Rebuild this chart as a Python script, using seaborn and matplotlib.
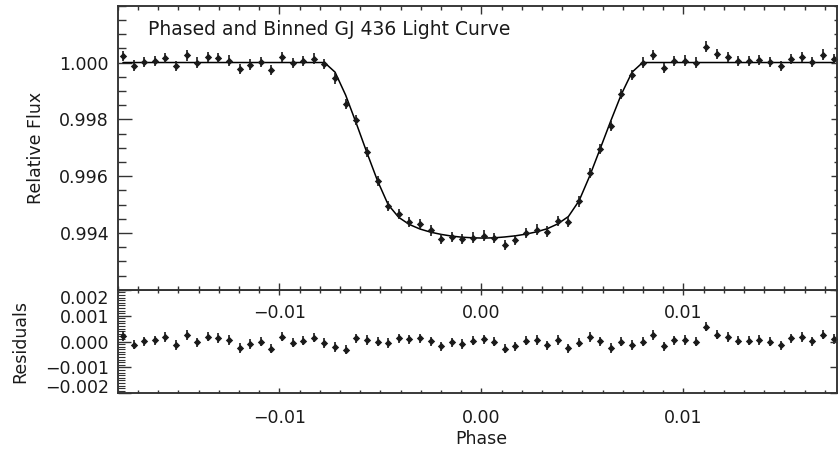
import numpy as np
import pandas as pd
import matplotlib
matplotlib.use("Agg")
import matplotlib.pyplot as plt
from matplotlib.ticker import FixedLocator, MultipleLocator, NullLocator
import seaborn as sns

# ---------------- data ----------------
phase = [-0.01774, -0.017215, -0.01669, -0.016165, -0.01564, -0.015115, -0.01459, -0.014065,
         -0.01354, -0.013015, -0.01249, -0.011965, -0.01144, -0.010915, -0.01039, -0.009865,
         -0.00934, -0.008815, -0.00829, -0.007765, -0.00724, -0.006715, -0.00619, -0.005665,
         -0.00514, -0.004615, -0.00409, -0.003565, -0.00304, -0.002515, -0.00199, -0.001465,
         -0.00094, -0.000415, 0.00011, 0.000635, 0.00116, 0.001685, 0.00221, 0.002735,
         0.00326, 0.003785, 0.00431, 0.004835, 0.00536, 0.005885, 0.00641, 0.006935,
         0.00746, 0.007985, 0.00851, 0.009035, 0.00956, 0.010085, 0.01061, 0.011135,
         0.01166, 0.012185, 0.01271, 0.013235, 0.01376, 0.014285, 0.01481, 0.015335,
         0.01586, 0.016385, 0.01691, 0.017435]

flux = [1.000235, 0.999894, 1.00002, 1.00005, 1.00015, 0.99988, 1.00025, 1.0,
        1.0002, 1.00016, 1.00007, 0.99978, 0.99993, 1.00001, 0.99975, 1.00019,
        0.99998, 1.00004, 1.00014, 0.99995, 0.99944, 0.99853, 0.99798, 0.99686,
        0.99582, 0.99496, 0.99468, 0.99440, 0.99431, 0.99409, 0.99379, 0.99386,
        0.99379, 0.99384, 0.99391, 0.99381, 0.99359, 0.99374, 0.99400, 0.99412,
        0.99405, 0.99442, 0.99438, 0.99511, 0.99612, 0.99696, 0.99776, 0.99889,
        0.99955, 1.0, 1.00027, 0.99982, 1.00004, 1.00007, 1.0, 1.00056,
        1.00029, 1.00019, 1.00004, 1.00005, 1.00009, 1.00002, 0.99987, 1.00013,
        1.00019, 1.00002, 1.00028, 1.00013]

model = [1.0] * 20 + [
        0.99966, 0.99885, 0.99786, 0.99683, 0.99584, 0.99500, 0.99455, 0.99430,
        0.99414, 0.99403, 0.99395, 0.99389, 0.99385, 0.99383, 0.99382, 0.99383,
        0.99386, 0.99390, 0.99396, 0.99404, 0.99415, 0.99432, 0.99458, 0.99513,
        0.99600, 0.99697, 0.99795, 0.99889, 0.99966] + [1.0] * 19

residual = [0.00022, -0.00012, 0.00001, 0.00005, 0.00017, -0.00013, 0.00025, -0.00003,
            0.00019, 0.00014, 0.00006, -0.00025, -0.00009, 0.0, -0.00027, 0.00019,
            -0.00004, 0.00003, 0.00015, -0.00006, -0.00021, -0.00032, 0.00013, 0.00006,
            -0.00001, -0.00006, 0.00013, 0.00009, 0.00012, 0.00001, -0.00019, -0.00003,
            -0.00009, 0.00003, 0.00009, -0.00001, -0.00027, -0.00018, 0.00003, 0.00006,
            -0.00014, 0.00006, -0.00026, -0.00004, 0.00018, 0.00001, -0.00025, -0.00001,
            -0.00013, -0.00001, 0.00025, -0.00018, 0.00005, 0.00006, -0.00001, 0.00057,
            0.00026, 0.00018, 0.00003, 0.00004, 0.00006, 0.0, -0.00014, 0.00012,
            0.00018, 0.00001, 0.00027, 0.00010]

flux_err = 0.00018

title_text = "Phased and Binned GJ 436 Light Curve"
phase_ticks = [-0.01, 0.0, 0.01]
phase_tick_labels = ["\u22120.01", "0.00", "0.01"]
flux_ticks = [0.994, 0.996, 0.998, 1.000]
flux_tick_labels = ["0.994", "0.996", "0.998", "1.000"]
resid_ticks = [-0.002, -0.001, 0.0, 0.001, 0.002]
resid_tick_labels = ["\u22120.002", "\u22120.001", "0.000", "0.001", "0.002"]

df = pd.DataFrame({"phase": phase, "flux": flux, "model": model, "residual": residual})

# ---------------- style ----------------
sns.set_style("ticks")
plt.rcParams["font.family"] = ["DejaVu Sans"]
ink = "#1a1a1a"
plt.rcParams["axes.edgecolor"] = "#333333"
plt.rcParams["xtick.color"] = "#333333"
plt.rcParams["ytick.color"] = "#333333"
plt.rcParams["xtick.labelcolor"] = ink
plt.rcParams["ytick.labelcolor"] = ink
plt.rcParams["axes.labelcolor"] = ink
FS = 12.5

W, H = 838, 451
fig = plt.figure(figsize=(W / 100, H / 100), dpi=100)
L, R = 117.5, 837.3
T1, B1 = 5.7, 289.8
B2 = 393.3
ax1 = fig.add_axes([L / W, 1 - B1 / H, (R - L) / W, (B1 - T1) / H])
ax2 = fig.add_axes([L / W, 1 - B2 / H, (R - L) / W, (B2 - B1) / H])
ax1.set_zorder(3)

xlim = (-0.01801, 0.01762)

# ---------------- top panel ----------------
sns.lineplot(data=df, x="phase", y="model", ax=ax1, color="black", lw=1.1,
             sort=True, estimator=None, legend=False, zorder=2)
ax1.errorbar(df["phase"], df["flux"], yerr=flux_err, fmt="none",
             ecolor=ink, elinewidth=1.2, capsize=0, zorder=3)
sns.scatterplot(data=df, x="phase", y="flux", ax=ax1, marker="D", s=14,
                color=ink, linewidth=0, zorder=4, legend=False)
ax1.set_xlim(*xlim)
ax1.set_ylim(0.992, 1.002)
ax1.xaxis.set_major_locator(FixedLocator(phase_ticks))
ax1.set_xticklabels(phase_tick_labels, fontsize=FS)
ax1.xaxis.set_minor_locator(MultipleLocator(0.001))
ax1.yaxis.set_major_locator(FixedLocator(flux_ticks))
ax1.set_yticklabels(flux_tick_labels, fontsize=FS)
ax1.yaxis.set_minor_locator(MultipleLocator(0.0005))
ax1.tick_params(axis="x", which="major", direction="in", top=True, bottom=True,
                length=5.4, width=1.0, pad=10.5)
ax1.tick_params(axis="x", which="minor", direction="in", top=True, bottom=True,
                length=2.8, width=1.0)
ax1.tick_params(axis="y", which="major", direction="in", left=True, right=False,
                length=10.0, width=1.0, pad=6.1)
ax1.tick_params(axis="y", which="minor", direction="in", left=True, right=False,
                length=5.5, width=1.0)
ax1.set_xlabel("")
ax1.set_ylabel("Relative Flux", fontsize=FS, va="center")
ax1.yaxis.set_label_coords((36 - L) / (R - L), 0.5)
ax1.text((148 - L) / (R - L), 1 - (35 - T1) / (B1 - T1), title_text,
         transform=ax1.transAxes, fontsize=13.5, color=ink, ha="left", va="baseline")

ax1r = ax1.twinx()
ax1r.set_ylim(0.992, 1.002)
ax1r.yaxis.set_major_locator(FixedLocator(flux_ticks))
ax1r.yaxis.set_minor_locator(MultipleLocator(0.0005))
ax1r.tick_params(axis="y", which="major", direction="in", length=4.3, width=1.0,
                 labelright=False)
ax1r.tick_params(axis="y", which="minor", direction="in", length=2.2, width=1.0)
ax1r.set_zorder(3)
ax1r.patch.set_visible(False)

# ---------------- bottom panel ----------------
ax2.errorbar(df["phase"], df["residual"], yerr=flux_err, fmt="none",
             ecolor=ink, elinewidth=1.2, capsize=0, zorder=3)
sns.scatterplot(data=df, x="phase", y="residual", ax=ax2, marker="D", s=14,
                color=ink, linewidth=0, zorder=4, legend=False)
ax2.set_xlim(*xlim)
ax2.set_ylim(-0.002, 0.002)
ax2.xaxis.set_major_locator(FixedLocator(phase_ticks))
ax2.set_xticklabels(phase_tick_labels, fontsize=FS)
ax2.xaxis.set_minor_locator(MultipleLocator(0.001))
ax2.yaxis.set_major_locator(FixedLocator(resid_ticks))
ax2.set_yticklabels(resid_tick_labels, fontsize=FS)
ax2.yaxis.set_minor_locator(MultipleLocator(0.0001))
ytl = ax2.get_yticklabels()
ytl[0].set_va("baseline")
ytl[-1].set_va("top")
ax2.tick_params(axis="x", which="major", direction="in", top=True, bottom=True,
                length=3.5, width=1.0, pad=11.0)
ax2.tick_params(axis="x", which="minor", direction="in", top=True, bottom=True,
                length=2.5, width=1.0)
ax2.tick_params(axis="y", which="major", direction="in", left=True, right=False,
                length=9.5, width=1.0, pad=6.1)
ax2.tick_params(axis="y", which="minor", direction="in", left=True, right=False,
                length=5.0, width=0.8)
ax2.set_xlabel("Phase", fontsize=FS, va="center")
ax2.xaxis.set_label_coords((481 - L) / (R - L), -(438.5 - B2) / (B2 - B1))
ax2.set_ylabel("Residuals", fontsize=FS, va="center")
ax2.yaxis.set_label_coords((20 - L) / (R - L), 0.5)

ax2r = ax2.twinx()
ax2r.set_ylim(-0.002, 0.002)
ax2r.yaxis.set_major_locator(FixedLocator(resid_ticks))
ax2r.yaxis.set_minor_locator(NullLocator())
ax2r.tick_params(axis="y", which="major", direction="in", length=5.0, width=1.0,
                 labelright=False)

for a in (ax1, ax2, ax1r, ax2r):
    for s in a.spines.values():
        s.set_linewidth(1.1)
        s.set_visible(True)

fig.savefig("out.png", dpi=100)
